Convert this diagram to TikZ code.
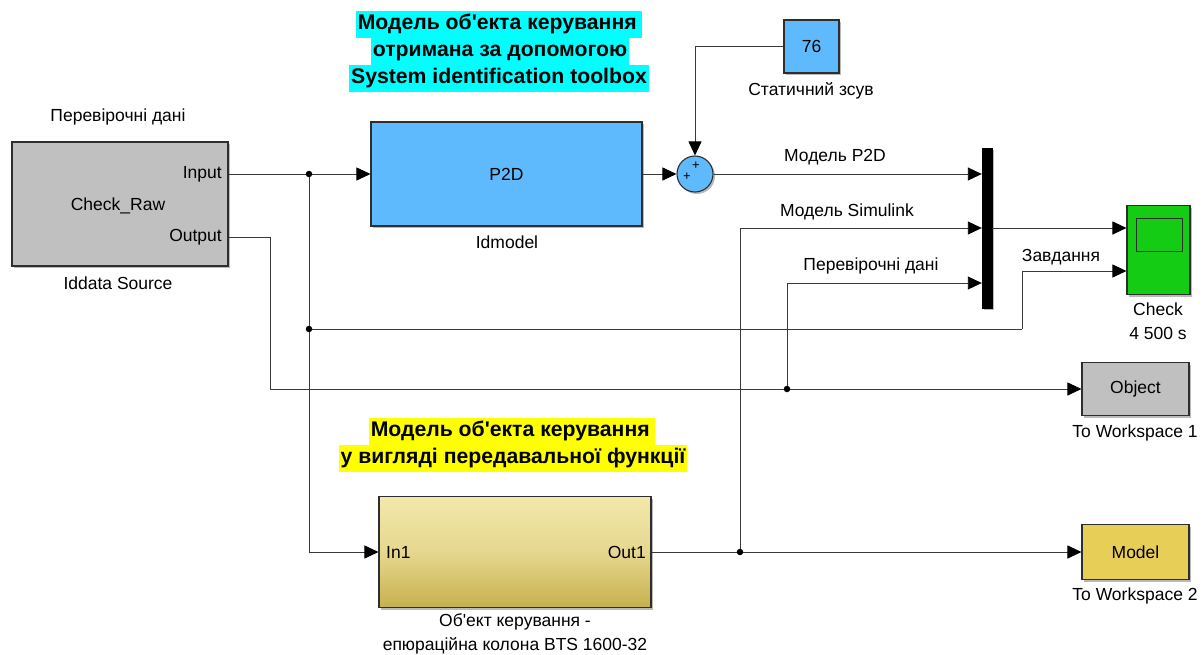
\documentclass[tikz,border=0pt]{standalone}
\usepackage{fontspec}
\setmainfont{Liberation Sans}
\usetikzlibrary{arrows.meta,shadows,calc}
\definecolor{wire}{HTML}{3A3A3A}
\definecolor{edge}{HTML}{2E2E2E}
\definecolor{srcgray}{HTML}{C0C0C0}
\definecolor{lblue}{HTML}{5EBAFC}
\definecolor{scopegreen}{HTML}{14CC14}
\definecolor{mustard}{HTML}{E7CF57}
\definecolor{subtop}{HTML}{F3E8AB}
\definecolor{subbot}{HTML}{C7B04D}
\definecolor{hlcyan}{HTML}{00FFFF}
\definecolor{hlyellow}{HTML}{FFFF00}
\newcommand{\apos}{\textquotesingle}
\tikzset{
  blk/.style={draw=edge, line width=1.1pt, inner sep=0pt,
    drop shadow={shadow xshift=2pt, shadow yshift=-2pt, fill=black!45, opacity=0.6}},
  wireline/.style={draw=wire, line width=0.9pt},
  sig/.style={wireline, -{Triangle[length=14pt,width=13pt,fill=black,color=black]}},
  lbl/.style={inner sep=0pt, font=\fontsize{17.5}{20}\selectfont},
  title/.style={inner xsep=2pt, inner ysep=0pt, text height=19pt, text depth=8pt,
    font=\fontsize{21.2}{24}\bfseries\selectfont},
  dot/.style={circle, fill=black, inner sep=0pt, minimum size=6.5pt},
  plus/.style={inner sep=0pt, font=\fontsize{13}{14}\selectfont},
}
\begin{document}
\begin{tikzpicture}[x=1pt,y=-1pt]
\useasboundingbox (0,0) rectangle (1202,654);

% ---------- blocks ----------
\node[blk, fill=srcgray, minimum width=216pt, minimum height=124pt] (src) at (120,204) {};
\node[blk, fill=lblue, minimum width=271pt, minimum height=104pt] (p2d) at (506.5,174) {};
\node[blk, circle, fill=lblue, minimum size=36pt] (sum) at (695,174) {};
\node[blk, fill=lblue, minimum width=55pt, minimum height=53pt] (const) at (811.5,46.5) {};
\node[draw=black, fill=black, inner sep=0pt, minimum width=10pt, minimum height=160pt,
  drop shadow={shadow xshift=2pt, shadow yshift=-2pt, fill=black!45, opacity=0.6}] (mux) at (987,228) {};
\node[blk, fill=scopegreen, minimum width=63pt, minimum height=89pt] (scope) at (1158.5,250) {};
\node[draw=edge, line width=1pt, fill=scopegreen, minimum width=46pt, minimum height=33pt, inner sep=0pt]
  (screen) at (1159,234.5) {};
\node[blk, fill=srcgray, minimum width=107pt, minimum height=53pt] (obj) at (1135.5,389) {};
\node[blk, top color=subtop, bottom color=subbot, middle color=subtop!70!subbot,
  minimum width=272pt, minimum height=111pt] (sub) at (515,552) {};
\node[blk, fill=mustard, minimum width=107pt, minimum height=55pt] (model) at (1135.5,552) {};

% ---------- block texts ----------
\node[lbl, anchor=east] at (222,174) {Input};
\node[lbl, anchor=east] at (222,237) {Output};
\node[lbl] at (118,206) {Check\_Raw};
\node[lbl] at (118,117) {Перевірочні дані};
\node[lbl] at (118,283) {Iddata Source};
\node[lbl] at (p2d) {P2D};
\node[lbl] at (507,242) {Idmodel};
\node[plus] at (687,177) {+};
\node[plus] at (696,166) {+};
\node[lbl] at (const) {76};
\node[lbl] at (811,91) {Статичний зсув};
\node[lbl] at (1158,309) {Check};
\node[lbl] at (1158,333) {4 500 s};
\node[lbl] at (obj) {Object};
\node[lbl] at (1135,433) {To Workspace 1};
\node[lbl] at (model) {Model};
\node[lbl] at (1135,596) {To Workspace 2};
\node[lbl, anchor=west] at (386,552) {In1};
\node[lbl, anchor=east] at (646,552) {Out1};
\node[lbl] at (515,622) {Об\apos ект керування -};
\node[lbl] at (515,646) {епюраційна колона BTS 1600-32};

% ---------- signal labels ----------
\node[lbl] at (835,157) {Модель P2D};
\node[lbl] at (847,212) {Модель Simulink};
\node[lbl] at (871,266) {Перевірочні дані};
\node[lbl] at (1061,257) {Завдання};

% ---------- highlighted captions ----------
\node[title, fill=hlcyan] at (499,24) {Модель об\apos екта керування\,};
\node[title, fill=hlcyan] at (500,51) {отримана за допомогою};
\node[title, fill=hlcyan] at (499,78) {System identification toolbox};
\node[title, fill=hlyellow] at (512,431) {Модель об\apos екта керування\,};
\node[title, fill=hlyellow] at (513,458) {у вигляді передавальної функції};

% ---------- ports and branch points ----------
\coordinate (srcIn) at ([yshift=30pt]src.east);
\coordinate (srcOut) at ([yshift=-33pt]src.east);
\coordinate (muxA) at ([yshift=54pt]mux.west);
\coordinate (muxB) at (mux.west);
\coordinate (muxC) at ([yshift=-55pt]mux.west);
\coordinate (scopeA) at ([yshift=22pt]scope.west);
\coordinate (scopeB) at ([yshift=-21pt]scope.west);
\coordinate (j1) at (309,174);
\coordinate (j2) at (309,329);
\coordinate (bend1) at (1022,329);
\coordinate (bend2) at (270,389);
\coordinate (j3) at (787,389);
\coordinate (j4) at (740,552);

% ---------- connectors ----------
\draw[sig] (srcIn) -- (p2d.west);
\draw[sig] (p2d.east) -- (sum.west);
\draw[sig] (const.west) -| (sum.north);
\draw[sig] (sum.east) -- (muxA);
\draw[sig] (mux.east) -- (scopeA);
\draw[sig] (j1) |- (sub.west);
\draw[wireline] (j2) -- (bend1);
\draw[sig] (bend1) |- (scopeB);
\draw[wireline] (srcOut) -| (bend2);
\draw[sig] (bend2) -- (obj.west);
\draw[sig] (j3) |- (muxC);
\draw[sig] (sub.east) -- (model.west);
\draw[sig] (j4) |- (muxB);

\foreach \j in {j1,j2,j3,j4} \node[dot] at (\j) {};
\end{tikzpicture}
\end{document}
